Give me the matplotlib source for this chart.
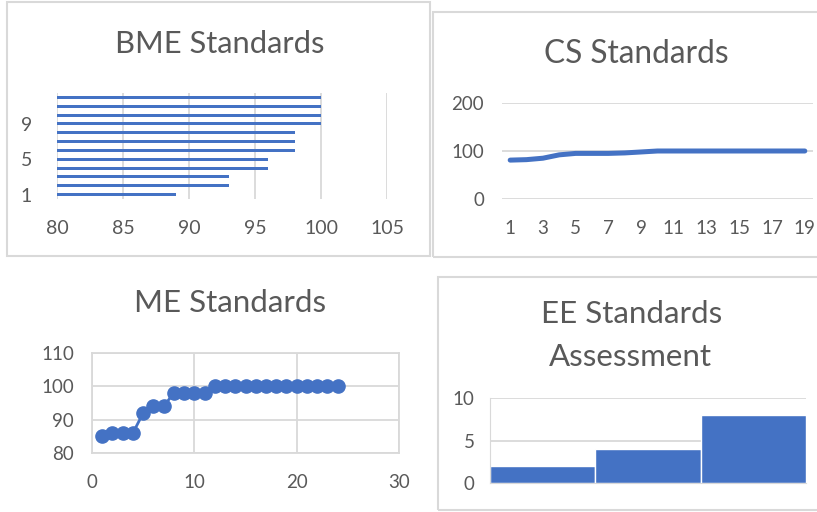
import matplotlib
matplotlib.use("Agg")
import matplotlib.pyplot as plt
from matplotlib.patches import Rectangle

plt.rcParams['font.family'] = ['Lato', 'DejaVu Sans']

# Data
bme_items = list(range(1, 13))
bme_scores = [89, 93, 93, 96, 96, 98, 98, 98, 100, 100, 100, 100]

cs_items = list(range(1, 20))
cs_scores = [81, 82, 85, 92, 95, 95, 95, 96, 98, 100, 100, 100, 100, 100, 100, 100, 100, 100, 100]

me_items = list(range(1, 25))
me_scores = [85, 86, 86, 86, 92, 94, 94, 98, 98, 98, 98, 100,
             100, 100, 100, 100, 100, 100, 100, 100, 100, 100, 100, 100]

ee_bins = [0, 1, 2]
ee_counts = [2, 4, 8]

BLUE = '#4472C4'
GRID = '#D9D9D9'
TEXT = '#595959'
W, H = 817, 512

fig = plt.figure(figsize=(W / 100, H / 100), dpi=100)


def px_axes(x0, y0, x1, y1):
    # axes placed by pixel box (top-left origin)
    return fig.add_axes([x0 / W, 1 - y1 / H, (x1 - x0) / W, (y1 - y0) / H])


def px_box(x0, y0, x1, y1):
    fig.add_artist(Rectangle((x0 / W, 1 - y1 / H), (x1 - x0) / W, (y1 - y0) / H,
                             transform=fig.transFigure, fill=False,
                             edgecolor=GRID, linewidth=1.5))


def px_text(x, y, s, size):
    fig.text(x / W, 1 - y / H, s, ha='center', va='center', fontsize=size, color=TEXT)


def clean(ax):
    for sp in ax.spines.values():
        sp.set_visible(False)
    ax.tick_params(length=0, colors=TEXT)
    ax.set_axisbelow(True)


# panel borders
px_box(7, 2, 430, 256)
px_box(433, 12, 820, 257)
px_box(438, 277, 820, 510)

# BME Standards - horizontal bars
ax1 = px_axes(57, 93, 387, 199)
clean(ax1)
ax1.barh(bme_items, bme_scores, height=0.35, color=BLUE)
ax1.set_xlim(80, 105)
ax1.set_ylim(0.5, 12.5)
ax1.set_xticks([80, 85, 90, 95, 100, 105])
ax1.set_yticks([1, 5, 9])
ax1.xaxis.grid(True, color=GRID, linewidth=1.3)
ax1.tick_params(axis='x', labelsize=14, pad=15)
ax1.tick_params(axis='y', labelsize=14, pad=18)
px_text(220, 44, 'BME Standards', 22.2)

# CS Standards - line
ax2 = px_axes(502, 103, 813, 199)
clean(ax2)
ax2.plot(cs_items, cs_scores, color=BLUE, linewidth=3.6,
         solid_capstyle='round', solid_joinstyle='round')
ax2.set_xlim(0.5, 19.5)
ax2.set_ylim(0, 200)
ax2.set_xticks(cs_items[::2])
ax2.set_yticks([0, 100, 200])
ax2.yaxis.grid(True, color=GRID, linewidth=1.3)
ax2.tick_params(axis='x', labelsize=13.5, pad=15)
ax2.tick_params(axis='y', labelsize=13.5, pad=13)
px_text(636, 54, 'CS Standards', 22.8)

# ME Standards - scatter with lines
ax3 = px_axes(92, 353, 399, 453)
for sp in ax3.spines.values():
    sp.set_color(GRID)
    sp.set_linewidth(1.3)
ax3.tick_params(length=0, colors=TEXT)
ax3.set_axisbelow(True)
ax3.plot(me_items, me_scores, color=BLUE, linewidth=2, marker='o',
         markersize=9.5, markeredgecolor=BLUE)
ax3.set_xlim(0, 30)
ax3.set_ylim(80, 110)
ax3.set_xticks([0, 10, 20, 30])
ax3.set_yticks([80, 90, 100, 110])
ax3.grid(True, color=GRID, linewidth=1.3)
ax3.tick_params(axis='x', labelsize=13.5, pad=15)
ax3.tick_params(axis='y', labelsize=13.5, pad=13)
px_text(230, 303, 'ME Standards', 22.5)

# EE Standards Assessment - histogram style bars
ax4 = px_axes(490, 398, 806, 483)
clean(ax4)
ax4.spines['left'].set_visible(True)
ax4.spines['left'].set_color(GRID)
ax4.spines['bottom'].set_visible(True)
ax4.spines['bottom'].set_color(GRID)
ax4.bar(ee_bins, ee_counts, width=1.0, color=BLUE, edgecolor='white', linewidth=1)
ax4.set_xlim(-0.5, 2.5)
ax4.set_ylim(0, 10)
ax4.set_yticks([0, 5, 10])
ax4.set_xticks([])
ax4.yaxis.grid(True, color=GRID, linewidth=1.3)
ax4.tick_params(axis='y', labelsize=13.5, pad=11)
px_text(632, 314, 'EE Standards', 22.5)
px_text(630, 357, 'Assessment', 22.5)

fig.savefig('out.png', dpi=100)
